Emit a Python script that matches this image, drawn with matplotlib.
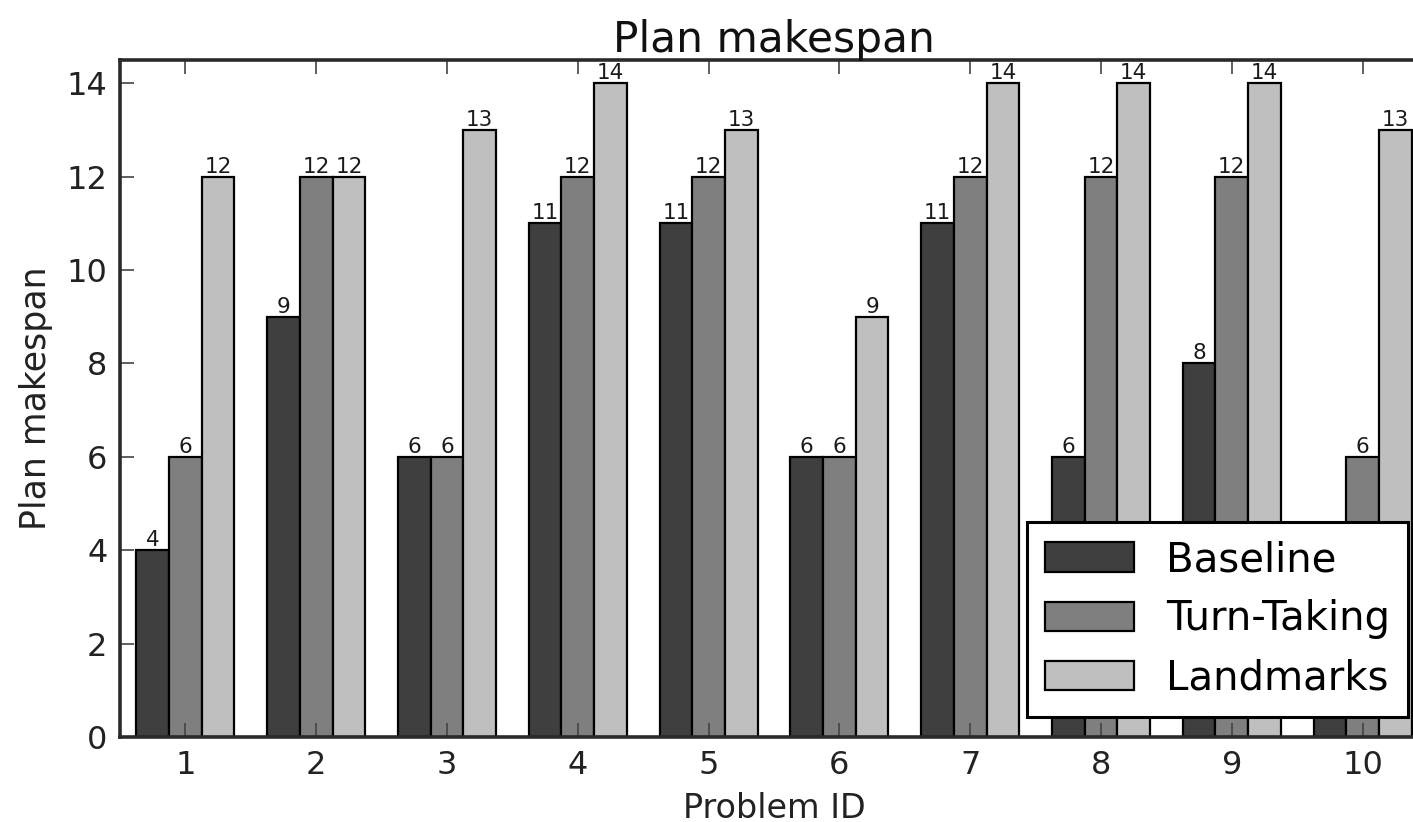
import numpy as np
import matplotlib
matplotlib.use("Agg")
import matplotlib.pyplot as plt

# Plan makespan per problem and planner
problems = [1, 2, 3, 4, 5, 6, 7, 8, 9, 10]
baseline = [4, 9, 6, 11, 11, 6, 11, 6, 8, 4]
turn_taking = [6, 12, 6, 12, 12, 6, 12, 12, 12, 6]
landmarks = [12, 12, 13, 14, 13, 9, 14, 14, 14, 13]
series_names = ["Baseline", "Turn-Taking", "Landmarks"]
yticks = [0, 2, 4, 6, 8, 10, 12, 14]

plt.rcParams['font.family'] = 'DejaVu Sans'
plt.rcParams['xtick.direction'] = 'in'
plt.rcParams['ytick.direction'] = 'in'

fig = plt.figure(figsize=(14.13, 8.22), dpi=100, facecolor="white")
# axes run past the right edge, as in the cropped original
ax = fig.add_axes([120/1413, 85/822, 1308/1413, 677/822])

x = np.array(problems, dtype=float)
w = 0.25
colors = ["#3f3f3f", "#7f7f7f", "#bfbfbf"]
data = [baseline, turn_taking, landmarks]

for k, (vals, name, c) in enumerate(zip(data, series_names, colors)):
    pos = x + (k - 1) * w
    bars = ax.bar(pos, vals, w, color=c, edgecolor="black", linewidth=1.6,
                  label=name)
    for rect, v in zip(bars, vals):
        ax.text(rect.get_x() + rect.get_width() / 2, rect.get_height(),
                "%d" % v, ha="center", va="bottom", fontsize=15.5,
                color="#1a1a1a")

ax.set_xlim(0.5, 10.5)
ax.set_ylim(0, 14.5)
ax.set_xticks(x)
ax.set_xticklabels([str(p) for p in problems])
ax.set_yticks(yticks)
ax.tick_params(axis="both", which="major", labelsize=23, length=10,
               width=1.2, pad=9, top=True, right=True, color="#444444")
ax.tick_params(axis="both", labelcolor="#222222")
for s in ax.spines.values():
    s.set_linewidth(2.6)
    s.set_color("#2a2a2a")

ax.set_title("Plan makespan", fontsize=30.5, color="#111111")
ax.set_xlabel("Problem ID", fontsize=24, color="#222222", labelpad=8)
ax.set_ylabel("Plan makespan", fontsize=25, color="#222222", labelpad=10)

leg = ax.legend(loc="lower right", fontsize=29, fancybox=False,
                framealpha=1.0, handlelength=2.2, handleheight=0.75,
                handletextpad=0.8, labelspacing=0.48, borderpad=0.45,
                borderaxespad=0.5)
leg.get_frame().set_edgecolor("black")
leg.get_frame().set_linewidth(2.2)

fig.savefig("out.png", dpi=100, facecolor="white")
